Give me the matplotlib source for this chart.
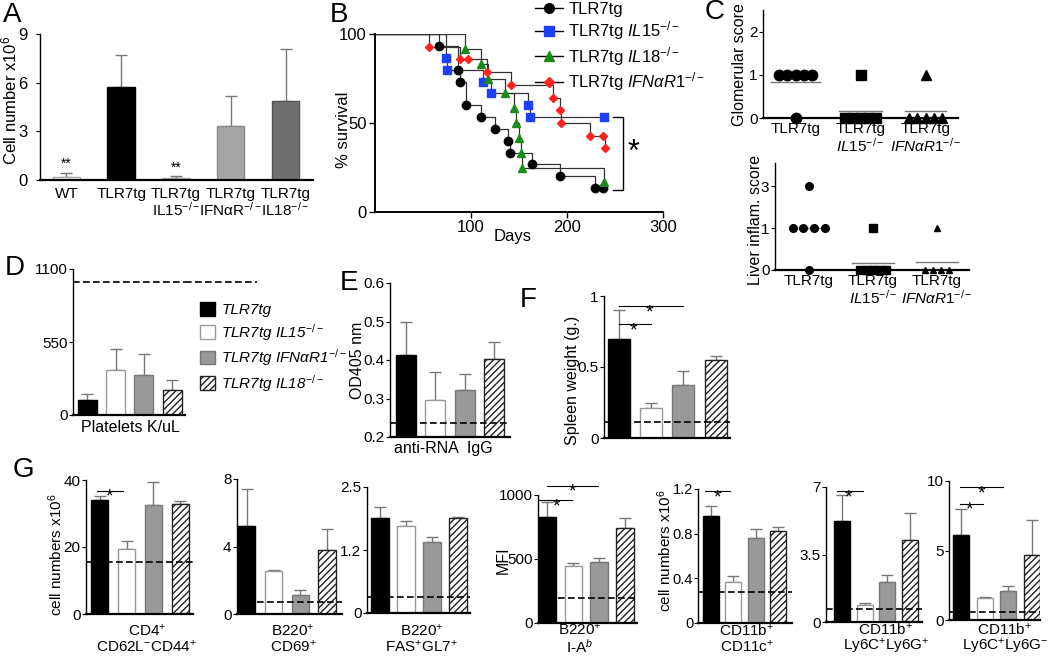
import numpy as np
import matplotlib
matplotlib.use('Agg')
import matplotlib.pyplot as plt
from matplotlib.patches import Patch
from matplotlib.lines import Line2D

plt.rcParams['font.family'] = ['Liberation Sans', 'DejaVu Sans']
plt.rcParams['mathtext.fontset'] = 'custom'
plt.rcParams['mathtext.rm'] = 'Liberation Sans'
plt.rcParams['mathtext.it'] = 'Liberation Sans:italic'
plt.rcParams['mathtext.bf'] = 'Liberation Sans:bold'
plt.rcParams['hatch.linewidth'] = 1.0
plt.rcParams['font.size'] = 11

# ---- A: cell numbers
a_labels = ["WT", "TLR7tg", "TLR7tg\nIL15$^{-/-}$", "TLR7tg\nIFNαR$^{-/-}$", "TLR7tg\nIL18$^{-/-}$"]
a_mean = [0.2, 5.75, 0.15, 3.35, 4.85]
a_top = [0.45, 7.7, 0.25, 5.2, 8.1]
a_stars = ["**", "", "**", "", ""]

# ---- B: survival (event day, % surviving)
b_labels = ["TLR7tg", "TLR7tg $\\mathit{IL15}^{-/-}$", "TLR7tg $\\mathit{IL18}^{-/-}$",
            "TLR7tg $\\mathit{IFNαR1}^{-/-}$"]
b_tlr7_t = [67, 86, 89, 95, 110, 125, 139, 141, 164, 193, 229, 238]
b_tlr7_s = [93.3, 80, 73.3, 60, 53.3, 46.7, 40, 33.3, 26.7, 20, 13.3, 13.3]
b_il15_t = [74, 75, 113, 121, 159, 161, 239]
b_il15_s = [86.7, 80, 73.3, 66.7, 60, 53.3, 53.3]
b_il18_t = [94, 110, 118, 135, 145, 147, 150, 152, 153, 239]
b_il18_s = [91.7, 83.3, 75, 66.7, 58.3, 50, 41.7, 33.3, 25, 16.7]
b_ifn_t = [56, 89, 97, 117, 142, 185, 193, 194, 224, 238, 240]
b_ifn_s = [92.9, 85.7, 85.7, 78.6, 71.4, 64.3, 57.1, 50, 42.9, 42.9, 35.7]

# ---- C: histology scores
c_labels = ["TLR7tg", "TLR7tg\n$\\mathit{IL15}^{-/-}$", "TLR7tg\n$\\mathit{IFNαR1}^{-/-}$"]
c_glom = [[1, 1, 1, 1, 1, 0], [1, 0, 0, 0, 0, 0], [1, 0, 0, 0, 0, 0]]
c_glom_mean = [0.83, 0.17, 0.17]
c_liver = [[3, 1, 1, 1, 1, 0], [1, 0, 0, 0, 0, 0], [1, 0, 0, 0, 0]]
c_liver_mean = [1.0, 0.17, 0.2]

# ---- D/E/F: platelets, anti-RNA IgG, spleen weight
legend_labels = ["TLR7tg", "TLR7tg IL15$^{-/-}$", "TLR7tg IFNαR1$^{-/-}$", "TLR7tg IL18$^{-/-}$"]
d_mean = [112, 337, 305, 192]
d_top = [157, 495, 457, 262]
d_ref = 1000
e_mean = [0.414, 0.297, 0.322, 0.403]
e_top = [0.50, 0.37, 0.364, 0.446]
e_ref = 0.236
f_mean = [0.70, 0.21, 0.37, 0.55]
f_top = [0.90, 0.245, 0.47, 0.58]
f_ref = 0.11

# ---- G: flow cytometry populations
g_xlabels = ["CD4$^{+}$\nCD62L$^{-}$CD44$^{+}$", "B220$^{+}$\nCD69$^{+}$", "B220$^{+}$\nFAS$^{+}$GL7$^{+}$",
             "B220$^{+}$\nI-A$^{b}$", "CD11b$^{+}$\nCD11c$^{+}$", "CD11b$^{+}$\nLy6C$^{+}$Ly6G$^{+}$",
             "CD11b$^{+}$\nLy6C$^{+}$Ly6G$^{-}$"]
g_mean = [[34, 19.5, 32.5, 32.7], [5.2, 2.54, 1.14, 3.8], [1.89, 1.72, 1.41, 1.89],
          [825, 446, 478, 744], [0.955, 0.37, 0.76, 0.82], [5.23, 0.9, 2.1, 4.23],
          [6.15, 1.55, 2.1, 4.66]]
g_top = [[35.2, 21.9, 39.5, 33.7], [7.4, 2.58, 1.4, 5.04], [2.1, 1.82, 1.51, 1.9],
         [948, 465, 504, 817], [1.05, 0.42, 0.84, 0.86], [6.6, 1.0, 2.42, 5.65],
         [8.0, 1.67, 2.44, 7.2]]
g_ref = [15.5, 0.7, 0.32, 196, 0.28, 0.69, 0.6]
g_ymax = [40, 8, 2.5, 1000, 1.2, 7, 10]
g_yticks = [[0, 20, 40], [0, 4, 8], [0, 1.25, 2.5], [0, 500, 1000], [0, 0.4, 0.8, 1.2],
            [0, 3.5, 7], [0, 5, 10]]
g_yticklabels = [["0", "20", "40"], ["0", "4", "8"], ["0", "1.2", "2.5"], ["0", "500", "1000"],
                 ["0", "0.4", "0.8", "1.2"], ["0", "3.5", "7"], ["0", "5", "10"]]
g_sig = [[(-0.11, 0.86, 36.8, 0.34)], [], [],
         [(-0.35, 0.96, 961, 0.38), (0.0, 1.96, 1073, 0.96)],
         [(-0.27, 0.85, 1.18, 0.27)], [(-0.22, 0.93, 6.79, 0.27)],
         [(-0.04, 0.93, 8.37, 0.38), (-0.04, 1.77, 9.57, 0.88)]]

W, H = 1050, 664
fig = plt.figure(figsize=(W / 100, H / 100), dpi=100)


def add_ax(l, t, r, b):
    return fig.add_axes([l / W, 1 - b / H, (r - l) / W, (b - t) / H])


def ftext(x, y, s, **kw):
    fig.text(x / W, 1 - y / H, s, **kw)


def style(ax, xlim, ylim, yticks, yticklabels):
    for s in ['top', 'right']:
        ax.spines[s].set_visible(False)
    ax.spines['left'].set_linewidth(1.0)
    ax.spines['bottom'].set_linewidth(1.6)
    ax.set_xlim(xlim)
    ax.set_ylim(ylim)
    ax.set_xticks([])
    ax.set_yticks(yticks)
    ax.set_yticklabels(yticklabels)
    ax.tick_params(axis='y', length=3, width=0.8, pad=1, labelsize=11)


four_styles = [('black', 'black', None), ('white', '#999999', None),
               ('#999999', '#777777', None), ('white', '#222222', '/////')]


def bars(ax, mean, top, width, styles):
    for i in range(len(mean)):
        fc, ec, hatch = styles[i]
        ax.bar(i, mean[i], width, color=fc, edgecolor=ec, hatch=hatch, linewidth=1, zorder=2)
        ax.errorbar(i, mean[i], yerr=[[0], [top[i] - mean[i]]], color='#777777', capsize=4,
                    lw=1, capthick=1, zorder=1)


def sig(ax, x0, x1, y, xs):
    ax.plot([x0, x1], [y, y], color='black', lw=0.8, clip_on=False)
    ax.annotate('*', xy=(xs, y), xytext=(0, -8), textcoords='offset points',
                ha='center', va='baseline', fontsize=14, annotation_clip=False)


# ================= A
ax = add_ax(40, 34, 313, 180)
a_styles = [('white', '#aaaaaa', None), ('black', 'black', None), ('#eeeeee', '#aaaaaa', None),
            ('#a6a6a6', '#888888', None), ('#707070', '#555555', None)]
bars(ax, a_mean, a_top, 0.5, a_styles)
style(ax, (-0.48, 4.5), (0, 9), [0, 3, 6, 9], ["0", "3", "6", "9"])
ax.tick_params(axis='y', pad=6, labelsize=12)
for i, s in enumerate(a_stars):
    if s:
        ax.text(i, a_top[i] + 0.1, s, ha='center', va='bottom', fontsize=10)
ax.set_xticks(range(len(a_labels)))
ax.set_xticklabels(a_labels, fontsize=11, linespacing=1.0)
ax.tick_params(axis='x', length=0, pad=5)
ftext(9, 100, "Cell number x10$^{6}$", rotation=90, ha='center', va='center', fontsize=12)
ftext(3, 15, "A", fontsize=20, va='center')

# ================= B
ax = add_ax(375, 34, 663, 212)
b_t = [b_tlr7_t, b_il15_t, b_il18_t, b_ifn_t]
b_s = [b_tlr7_s, b_il15_s, b_il18_s, b_ifn_s]
b_marker = ['o', 's', '^', 'D']
b_color = ['black', '#1f3fff', '#1a8a1a', '#ff2020']
b_ms = [6, 6, 6, 4.5]
handles = []
for t, s, m, c, ms in zip(b_t, b_s, b_marker, b_color, b_ms):
    ax.step([0] + t, [100] + s, where='post', color='#333333', lw=0.9, zorder=2)
    ax.plot(t, s, ls='none', marker=m, color=c, ms=ms, zorder=3)
    handles.append(Line2D([0], [0], color='black', lw=1, marker=m, mfc=c, mec=c, ms=ms + 1))
for sname in ['top', 'right']:
    ax.spines[sname].set_visible(False)
ax.spines['left'].set_linewidth(1.4)
ax.spines['bottom'].set_linewidth(1.4)
ax.set_xlim(0, 300)
ax.set_ylim(0, 100)
ax.set_xticks([100, 200, 300])
ax.set_yticks([0, 50, 100])
ax.tick_params(length=4, width=1, labelsize=12, pad=2)
ax.plot([248, 258, 258, 248], [53.3, 53.3, 12.5, 12.5], color='black', lw=1, clip_on=False)
ax.text(269, 33, '*', fontsize=22, ha='center', va='center')
ftext(513, 237, "Days", ha='center', va='center', fontsize=12)
ftext(343, 130, "% survival", rotation=90, ha='center', va='center', fontsize=12)
fig.legend(handles, b_labels, loc='upper left', bbox_to_anchor=(535 / W, 1 - 2 / H), frameon=False,
           fontsize=12, handlelength=1.7, labelspacing=0.15, borderaxespad=0, handletextpad=0.3,
           borderpad=0)
ftext(330, 15, "B", fontsize=20, va='center')


# ================= C
def scatter_groups(ax, groups, means, markers, sizes, spacing, halfw):
    for g, vals in enumerate(groups):
        vals = np.array(vals)
        for v in np.unique(vals):
            n = np.sum(vals == v)
            off = (np.arange(n) - (n - 1) / 2) * spacing[g]
            ax.plot(g + off, np.full(n, v), ls='none', marker=markers[g], color='black',
                    ms=sizes[g], clip_on=False, zorder=3)
        ax.plot([g - halfw[g], g + halfw[g]], [means[g], means[g]], color='#777777', lw=1, zorder=2)


ax = add_ax(763, 10, 958, 118)
scatter_groups(ax, c_glom, c_glom_mean, ['o', 's', '^'], [7.5, 7.5, 7], [0.13, 0.12, 0.13],
               [0.38, 0.33, 0.32])
style(ax, (-0.5, 2.5), (0, 2.5), [0, 1, 2], ["0", "1", "2"])
ax.set_xticks([0, 1, 2])
ax.set_xticklabels(c_labels, fontsize=11, linespacing=1.05)
ax.tick_params(axis='x', length=0, pad=3)
ftext(740, 65, "Glomerular score", rotation=90, ha='center', va='center', fontsize=11.5)
ftext(705, 12, "C", fontsize=20, va='center')

ax = add_ax(775, 163, 969, 270)
scatter_groups(ax, c_liver, c_liver_mean, ['o', 's', '^'], [5.5, 6, 4.5], [0.17, 0.1, 0.13],
               [0.3, 0.33, 0.33])
fwd = lambda y: np.where(y <= 1, y, 1 + (y - 1) / 2)
inv = lambda y: np.where(y <= 1, y, 1 + (y - 1) * 2)
ax.set_yscale('function', functions=(fwd, inv))
style(ax, (-0.53, 2.5), (0, 4.1), [0, 1, 3], ["0", "1", "3"])
ax.yaxis.set_minor_locator(matplotlib.ticker.NullLocator())
ax.set_xticks([0, 1, 2])
ax.set_xticklabels(c_labels, fontsize=11, linespacing=1.05)
ax.tick_params(axis='x', length=0, pad=3)
ftext(755, 220, "Liver inflam. score", rotation=90, ha='center', va='center', fontsize=11.5)

# ================= D
ax = add_ax(73, 269, 185, 415)
bars(ax, d_mean, d_top, 0.67, four_styles)
style(ax, (-0.5, 3.45), (0, 1100), [0, 550, 1100], ["0", "550", "1100"])
ax.axhline(d_ref, color='black', ls='--', lw=1.2, dashes=(4, 2), zorder=3, clip_on=False)
ax.plot([3.45, 6.0], [d_ref, d_ref], color='black', ls='--', lw=1.2, dashes=(4, 2), clip_on=False)
ftext(130, 428, "Platelets K/uL", ha='center', va='center', fontsize=11.5)
ftext(5, 268, "D", fontsize=20, va='center')
leg_handles = [Patch(facecolor=fc, edgecolor=ec, hatch=h, lw=1) for fc, ec, h in four_styles]
fig.legend(leg_handles, legend_labels, loc='upper left', bbox_to_anchor=(200 / W, 1 - 302 / H),
           frameon=False, prop={'style': 'italic', 'size': 11}, handlelength=1.0, handleheight=1.0,
           labelspacing=0.3, borderaxespad=0, handletextpad=0.4, borderpad=0)

# ================= E
ax = add_ax(390, 283, 510, 437)
bars(ax, e_mean, e_top, 0.68, four_styles)
style(ax, (-0.55, 3.55), (0.2, 0.6), [0.2, 0.3, 0.4, 0.5, 0.6], ["0.2", "0.3", "0.4", "0.5", "0.6"])
ax.axhline(e_ref, color='black', ls='--', lw=1.2, dashes=(4, 2), zorder=3)
ftext(443, 449, "anti-RNA  IgG", ha='center', va='center', fontsize=11.5)
ftext(357, 360, "OD405 nm", rotation=90, ha='center', va='center', fontsize=11.5)
ftext(340, 283, "E", fontsize=20, va='center')

# ================= F
ax = add_ax(604, 296, 730, 438)
bars(ax, f_mean, f_top, 0.68, four_styles)
style(ax, (-0.46, 3.44), (0, 1.0), [0, 0.5, 1.0], ["0", "0.5", "1"])
ax.axhline(f_ref, color='black', ls='--', lw=1.2, dashes=(4, 2), zorder=3)
sig(ax, 0.0, 1.0, 0.80, 0.45)
sig(ax, 0.0, 2.0, 0.93, 0.95)
ftext(573, 380, "Spleen weight (g.)", rotation=90, ha='center', va='center', fontsize=11.5)
ftext(520, 300, "F", fontsize=20, va='center')

# ================= G
g_box = [(86, 480, 193, 614), (237, 479, 342, 614), (367, 487, 470, 613), (538, 495, 637, 623),
         (698, 489, 792, 623), (826, 487, 922, 622), (949, 481, 1040, 620)]
g_xlim = [(-0.52, 3.48), (-0.37, 3.56), (-0.5, 3.46), (-0.35, 3.46), (-0.58, 3.63),
          (-0.7, 3.52), (-0.5, 3.33)]
g_width = [0.64, 0.64, 0.68, 0.66, 0.72, 0.7, 0.68]
g_labx = [147, 293, 422, 580, 747, 886, 1005]
for k in range(7):
    ax = add_ax(*g_box[k])
    bars(ax, g_mean[k], g_top[k], g_width[k], four_styles)
    style(ax, g_xlim[k], (0, g_ymax[k]), g_yticks[k], g_yticklabels[k])
    ax.axhline(g_ref[k], color='black', ls='--', lw=1.2, dashes=(4, 2), zorder=3)
    for x0, x1, y, xs in g_sig[k]:
        sig(ax, x0, x1, y, xs)
    ftext(g_labx[k], 639, g_xlabels[k], ha='center', va='center', fontsize=11, linespacing=1.0)
    if k == 4:
        ax.tick_params(axis='y', labelsize=10.5, pad=0.5)
ftext(56, 555, "cell numbers x10$^{6}$", rotation=90, ha='center', va='center', fontsize=11)
ftext(503, 560, "MFI", rotation=90, ha='center', va='center', fontsize=11.5)
ftext(665, 551, "cell numbers x10$^{6}$", rotation=90, ha='center', va='center', fontsize=11)
ftext(13, 470, "G", fontsize=20, va='center')

fig.savefig("out.png", dpi=100)
